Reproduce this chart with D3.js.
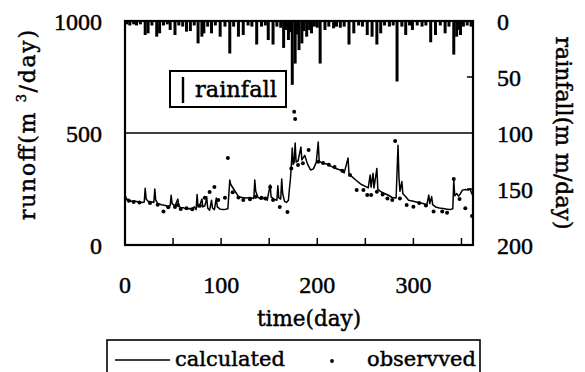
<!DOCTYPE html>
<html><head><meta charset="utf-8">
<script src="https://cdn.jsdelivr.net/npm/d3@7"></script>
<style>body{margin:0;background:#fff}svg{display:block}text{stroke:#000;stroke-width:0.45px}</style></head>
<body><svg id="c" width="585" height="372"></svg>
<script>
// ---- data ----
const rainDays = [2,5,9,12,16,21,24,28,33,36,40,44,47,52,56,60,64,68,72,76,80,82,86,90,94,99,104,109,113,118,123,128,132,137,142,146,149,154,158,162,165,168,170,172,174,177,179,181,184,186,189,192,194,197,200,203,208,212,217,220,224,228,233,238,243,247,252,257,262,266,270,275,279,283,288,292,296,299,304,309,313,318,323,328,333,337,342,345,347,349,352,356,360];
const rainMm   = [3,4,3,4,3,12.5,11,4,14,11,4,3,8,12.5,4,5,9.5,9,4,20,14,11,5,11,4,14,5,29,5,14,12.5,4,5,21,5,4,17,21,5,6,24,8,17,10,57,38,12,26,20,9,14,8,11,5,6,38,8,5,6.5,5,6,5,21,11,4,5,12.5,14,21,11,4,5,4,54,5,12.5,4,8,4,5,4,19,12.5,4,11,5,30,14,8,12.5,5,4,5];

const calcDay = [0,3,6,10,14,18,20,21,22,24,27,30,31,32,34,38,42,45,47,48,49,52,55,56,58,61,64,67,70,72,74,75,76,78,80,81,83,84,85,86,88,90,91,93,95,96,99,103,107,109,110,113,116,118,122,126,130,134,135,136,138,141,145,148,151,152,155,158,159,160,162,163,164,166,168,170,171,172,173,174,175,176,177,178,180,183,184,187,190,193,196,199,201,202,205,210,215,220,224,228,232,233,236,240,244,246,250,253,255,256,258,259,262,263,266,270,274,278,282,284,285,286,288,289,292,295,300,305,310,314,316,317,319,320,323,327,331,335,338,341,342,343,345,347,349,351,354,357,359,361];
const calcQ   = [200,205,195,196,192,190,192,253,205,195,193,190,250,200,186,180,176,172,175,222,185,175,205,172,168,166,160,163,162,170,158,225,170,180,205,170,175,190,215,165,155,200,165,158,210,170,160,158,162,290,270,250,230,215,212,210,212,208,290,240,215,205,210,200,268,215,205,200,265,210,205,295,230,195,190,200,250,290,350,433,360,370,455,370,375,438,380,400,360,335,340,370,460,375,366,362,350,340,335,322,388,320,305,290,276,270,262,255,312,258,320,255,342,250,238,230,222,212,210,445,300,240,283,230,215,200,195,190,185,180,223,185,216,180,170,165,163,160,158,162,290,220,230,218,230,245,248,245,250,225];

const obsDay = [0,4,9,15,26,34,40,45,52,55,58,64,70,78,83,88,93,97,104,107,112,118,123,130,136,142,146,151,154,161,169,173,176,177,180,185,191,201,206,212,218,226,234,241,248,252,256,262,268,273,278,281,286,293,300,306,313,321,330,335,342,348,354,361];
const obsQ   = [210,198,192,190,188,180,149,168,170,179,161,164,160,175,211,237,259,201,211,388,235,212,201,204,215,211,208,259,201,170,147,342,595,563,357,365,424,372,366,358,348,332,312,245,245,223,223,238,225,208,201,464,208,179,171,188,176,149,149,144,295,205,164,129];

const xTickLabels = [0,100,200,300];
const xTickMarks = [50,100,150,200,250,300,350];
const yLeftTicks = [0,500,1000];
const yRightTicks = [0,50,100,150,200];

// ---- drawing ----
const svg = d3.select('#c');
const L=125, R=473, T=21, B=245;
const x = d3.scaleLinear().domain([0,362]).range([L,R]);
const y = d3.scaleLinear().domain([0,1000]).range([B,T]);
const yr = d3.scaleLinear().domain([0,200]).range([T,B]);
const numFont = "'Liberation Serif', serif";
const txtFont = "'DejaVu Serif', serif";

svg.append('defs').append('clipPath').attr('id','pc')
  .append('rect').attr('x',L).attr('y',T).attr('width',R-L).attr('height',B-T);
const g = svg.append('g').attr('clip-path','url(#pc)');

// rainfall bars hanging from top
g.selectAll('line.rain').data(rainDays).join('line').attr('class','rain')
  .attr('x1',d=>x(d)).attr('x2',d=>x(d))
  .attr('y1',yr(0)).attr('y2',(d,i)=>yr(rainMm[i]))
  .attr('stroke','#000').attr('stroke-width',3);

// 500 reference line
g.append('line').attr('x1',L).attr('x2',R).attr('y1',y(500)).attr('y2',y(500))
  .attr('stroke','#000').attr('stroke-width',1.5);

// calculated line
const pts = calcDay.map((d,i)=>[d,calcQ[i]]);
g.append('path').datum(pts)
  .attr('d', d3.line().x(d=>x(d[0])).y(d=>y(d[1])))
  .attr('fill','none').attr('stroke','#000').attr('stroke-width',1.5).attr('stroke-linejoin','round');

// observed dots
g.selectAll('circle.obs').data(obsDay).join('circle').attr('class','obs')
  .attr('cx',d=>x(d)).attr('cy',(d,i)=>y(obsQ[i])).attr('r',2).attr('fill','#000');

// frame
svg.append('rect').attr('x',L).attr('y',T).attr('width',R-L).attr('height',B-T)
  .attr('fill','none').attr('stroke','#000').attr('stroke-width',2.2);

// ticks
svg.selectAll('line.xt').data(xTickMarks).join('line').attr('class','xt')
  .attr('x1',d=>x(d)).attr('x2',d=>x(d)).attr('y1',B).attr('y2',B-7)
  .attr('stroke','#000').attr('stroke-width',1.5);
svg.selectAll('line.rt').data([50,150]).join('line').attr('class','rt')
  .attr('x1',R).attr('x2',R-6).attr('y1',d=>yr(d)).attr('y2',d=>yr(d))
  .attr('stroke','#000').attr('stroke-width',1.5);

// tick labels
svg.selectAll('text.xl').data(xTickLabels).join('text').attr('class','xl')
  .attr('x',d=>x(d)).attr('y',293).attr('text-anchor','middle')
  .attr('font-family',numFont).attr('font-size',24).text(d=>d);
svg.selectAll('text.yl').data(yLeftTicks).join('text').attr('class','yl')
  .attr('x',102).attr('y',d=>y(d)+8.5).attr('text-anchor','end')
  .attr('font-family',numFont).attr('font-size',24).text(d=>d);
svg.selectAll('text.yr').data(yRightTicks).join('text').attr('class','yr')
  .attr('x',497).attr('y',d=>yr(d)+8.5).attr('text-anchor','start')
  .attr('font-family',numFont).attr('font-size',24).text(d=>d);

// axis titles
svg.append('text').attr('x',309).attr('y',326).attr('text-anchor','middle')
  .attr('font-family',txtFont).attr('font-size',21.5).text('time(day)');
const yt = svg.append('text').attr('transform','translate(35,125) rotate(-90)')
  .attr('text-anchor','middle').attr('font-family',txtFont).attr('font-size',22)
  .attr('textLength',190).attr('lengthAdjust','spacing');
yt.append('tspan').text('runoff(m ');
yt.append('tspan').attr('font-size',13).attr('dy',-9).text('3');
yt.append('tspan').attr('dy',9).text('/day)');
svg.append('text').attr('transform','translate(556,133) rotate(90)')
  .attr('text-anchor','middle').attr('font-family',txtFont).attr('font-size',22)
  .attr('textLength',193).attr('lengthAdjust','spacing').text('rainfall(m m/day)');

// rainfall legend
svg.append('rect').attr('x',170).attr('y',71).attr('width',116).attr('height',36)
  .attr('fill','#fff').attr('stroke','#000').attr('stroke-width',2);
svg.append('line').attr('x1',183).attr('x2',183).attr('y1',77).attr('y2',103)
  .attr('stroke','#000').attr('stroke-width',2.4);
svg.append('text').attr('x',195).attr('y',97).attr('font-family',txtFont)
  .attr('font-size',22.5).text('rainfall');

// bottom legend
svg.append('rect').attr('x',107).attr('y',340).attr('width',373).attr('height',45)
  .attr('fill','#fff').attr('stroke','#000').attr('stroke-width',1.6);
svg.append('line').attr('x1',115).attr('x2',170).attr('y1',360).attr('y2',360)
  .attr('stroke','#000').attr('stroke-width',1.5);
svg.append('text').attr('x',175).attr('y',366).attr('font-family',txtFont)
  .attr('font-size',21).text('calculated');
svg.append('circle').attr('cx',332).attr('cy',361).attr('r',1.9).attr('fill','#000');
svg.append('text').attr('x',367).attr('y',366).attr('font-family',txtFont)
  .attr('font-size',21).text('observved');
</script></body></html>
